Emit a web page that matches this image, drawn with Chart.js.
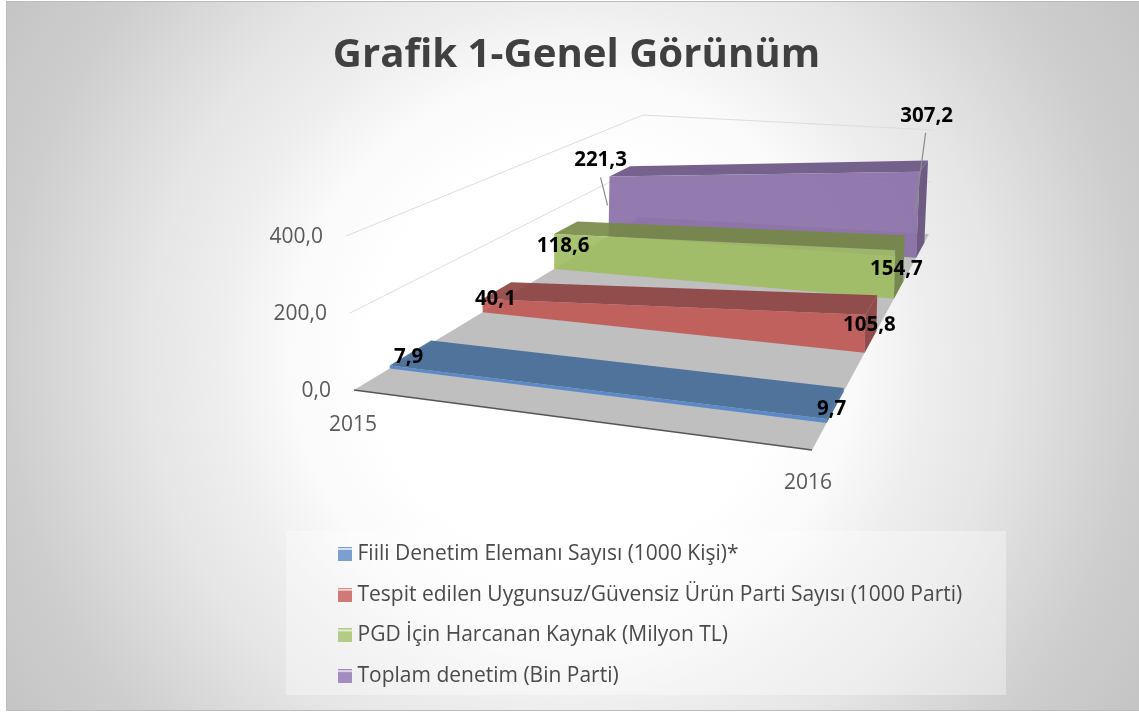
<!DOCTYPE html>
<html><head><meta charset="utf-8">
<style>html,body{margin:0;padding:0;background:#fff}canvas{display:block}</style>
<script src="https://cdn.jsdelivr.net/npm/chart.js@4"></script>
</head><body><canvas id="c" width="1139" height="713"></canvas>
<script>
const titleText = 'Grafik 1-Genel Görünüm';
const categories = ['2015', '2016'];
const valueTicks = [0, 200, 400];
const seriesNames = ['Fiili Denetim Elemanı Sayısı (1000 Kişi)*',
  'Tespit edilen Uygunsuz/Güvensiz Ürün Parti Sayısı (1000 Parti)',
  'PGD İçin Harcanan Kaynak (Milyon TL)',
  'Toplam denetim (Bin Parti)'];
const fiiliDenetim = [7.9, 9.7];
const tespitEdilen = [40.1, 105.8];
const pgdKaynak = [118.6, 154.7];
const toplamDenetim = [221.3, 307.2];
const seriesValues = [fiiliDenetim, tespitEdilen, pgdKaynak, toplamDenetim];

/* style and 3D layout */
const faceColors = ['rgba(91,138,198,1)', 'rgba(192,86,83,.9)', 'rgba(159,189,97,.9)', 'rgba(136,109,166,.9)'];
const topColors  = ['rgba(67,106,151,.9)', 'rgba(140,64,62,.9)', 'rgba(116,136,68,.9)', 'rgba(103,82,129,.9)'];
const sideColors = ['#4f729b', '#8f4c4a', '#76884e', '#6d5b83'];
const legendColors = ['#7ba0d0', '#d07a78', '#b3cb85', '#a38cbe'];
const legendLight = ['#d5e1f0', '#f0d5d4', '#e3ecd2', '#dcd3e6'];
const depths = [[.125, .27], [.45, .55], [.70, .78], [.89, .96]];
const labelOffsets = [[[19,-8],[5,-10]], [[13,0],[4,10]], [[9,12],[1,19]], [[-9,-16],[7,-56]]];
const TITLE_H = 88, W = 1139, H = 713, VMAX = 400;
const base = {fl:[354,390], fr:[812,450], bl:[640,217], br:[929,234]};
const roof = {fl:[346,236], fr:[813,274], bl:[643,115], br:[934,130]};

function lerp(a, b, u) { return a + (b - a) * u; }
function proj(t, d, v) {
  const u = v / VMAX, out = {};
  ['x', 'y'].forEach((k, i) => {
    const low = lerp(lerp(base.fl[i], base.fr[i], t), lerp(base.bl[i], base.br[i], t), d);
    const high = lerp(lerp(roof.fl[i], roof.fr[i], t), lerp(roof.bl[i], roof.br[i], t), d);
    out[k] = lerp(low, high, u);
  });
  return out;
}
function poly(points, color) {
  const data = points.concat([points[0]]).map(p => proj(p[0], p[1], p[2]));
  return {data, showLine:true, fill:'shape', backgroundColor:color, borderColor:'rgba(0,0,0,0)', borderWidth:1, pointRadius:0, pointHoverRadius:0, tension:0};
}
function line(points, color, width) {
  return {data:points.map(p => proj(p[0], p[1], p[2])), showLine:true, fill:false, borderColor:color, borderWidth:width, pointRadius:0, pointHoverRadius:0, tension:0};
}

const datasets = [];
seriesValues.forEach((vals, s) => {
  const [df, db] = depths[s];
  datasets.push(Object.assign(poly([[1,df,0],[1,db,0],[1,db,vals[1]],[1,df,vals[1]]], sideColors[s]), {label:seriesNames[s]+' yan'}));
  datasets.push(Object.assign(poly([[0,df,0],[1,df,0],[1,df,vals[1]],[0,df,vals[0]]], faceColors[s]), {label:seriesNames[s]}));
  datasets.push(Object.assign(poly([[0,df,vals[0]],[1,df,vals[1]],[1,db,vals[1]],[0,db,vals[0]]], topColors[s]), {label:seriesNames[s]+' üst'}));
});
datasets.push(line([[0,0,0],[1,0,0]], '#555555', 1.5));
datasets.push(poly([[0,0,0],[1,0,0],[1,1,0],[0,1,0]], '#bfbfbf'));
valueTicks.slice(1).forEach(v => datasets.push(line([[0,0,v],[0,1,v],[1,1,v]], '#dddddd', 1)));

function swatch(i) {
  const c = document.createElement('canvas'); c.width = 14; c.height = 14;
  const g = c.getContext('2d');
  g.fillStyle = legendColors[i]; g.fillRect(0, 0, 14, 14);
  g.fillStyle = legendLight[i]; g.fillRect(0, 1, 14, 2);
  return c;
}
const fmt = v => v.toFixed(1).replace('.', ',');

const paintPlugin = {
  id:'paint',
  afterLayout(chart) {
    chart.titleBlock.left = 14;
    const lg = chart.legend;
    lg.left = 343 - lg.options.labels.padding; lg.top = 543.5 - lg.options.labels.padding; lg.bottom = 713;
  },
  beforeDraw(chart) {
    const g = chart.ctx;
    g.save();
    g.fillStyle = '#ffffff'; g.fillRect(0, 0, W, H);
    const grad = g.createRadialGradient(572, 356, 0, 572, 356, 672);
    grad.addColorStop(0, '#ffffff'); grad.addColorStop(.3, '#ffffff'); grad.addColorStop(.42, '#fafafa');
    grad.addColorStop(.535, '#ededed'); grad.addColorStop(.63, '#e6e6e6'); grad.addColorStop(.84, '#cecece'); grad.addColorStop(1, '#c4c4c4');
    g.fillStyle = grad; g.fillRect(6, 1, W - 6, 709);
    g.strokeStyle = '#bbbbbb'; g.lineWidth = 1;
    g.beginPath(); g.moveTo(6.5, 710.5); g.lineTo(6.5, 1.5); g.lineTo(W, 1.5); g.moveTo(6.5, 710.5); g.lineTo(W, 710.5); g.stroke();
    g.fillStyle = 'rgba(255,255,255,0.35)'; g.fillRect(286, 531, 720, 164);
    g.restore();
  },
  afterDatasetsDraw(chart) {
    const g = chart.ctx;
    g.save();
    g.textBaseline = 'middle';
    g.font = '21px "Open Sans"'; g.fillStyle = '#595959';
    g.textAlign = 'right';
    valueTicks.forEach(v => { const p = proj(0, 0, v); g.fillText(fmt(v), p.x - 23, p.y + 1); });
    g.textAlign = 'center';
    categories.forEach((c, t) => { const p = proj(t, 0, 0); g.fillText(c, p.x - 1 - 3 * t, p.y + 35 - 2 * t); });
    /* leader lines */
    g.strokeStyle = '#8c8c8c'; g.lineWidth = 1.2;
    const a = proj(0, depths[3][0], toplamDenetim[0]), b = proj(1, depths[3][0], toplamDenetim[1]);
    g.beginPath();
    g.moveTo(a.x - 9, a.y + 1); g.lineTo(a.x - 2, a.y + 29);
    g.moveTo(b.x + 6, b.y - 39); g.lineTo(b.x - 5, b.y + 43);
    g.stroke();
    g.font = 'bold 20.5px "Open Sans"'; g.fillStyle = '#000000';
    seriesValues.forEach((vals, s) => vals.forEach((v, t) => {
      const p = proj(t, depths[s][0], v), o = labelOffsets[s][t];
      g.fillText(fmt(v), p.x + o[0], p.y + o[1]);
    }));
    g.restore();
  }
};

new Chart(document.getElementById('c'), {
  type:'scatter',
  data:{datasets},
  plugins:[paintPlugin],
  options:{
    responsive:false, animation:false, clip:false,
    layout:{padding:0},
    events:[],
    scales:{
      x:{type:'linear', display:false, min:0, max:W},
      y:{type:'linear', display:false, reverse:true, min:TITLE_H, max:H}
    },
    plugins:{
      tooltip:{enabled:false},
      title:{display:true, text:titleText, color:'#404040', font:{family:'"Open Sans"', size:40.2, weight:'bold', lineHeight:1.2}, padding:{top:31, bottom:8.8}},
      legend:{
        position:'chartArea', align:'start',
        labels:{
          usePointStyle:true, pointStyleWidth:4, boxHeight:14, padding:19.7, color:'#4a4a4a',
          font:{family:'"Open Sans"', size:21},
          generateLabels:() => seriesNames.map((n, i) => ({text:n, pointStyle:swatch(i), datasetIndex:i, fontColor:'#4a4a4a', lineWidth:0, strokeStyle:'rgba(0,0,0,0)', fillStyle:legendColors[i]}))
        }
      }
    }
  }
});
</script></body></html>
